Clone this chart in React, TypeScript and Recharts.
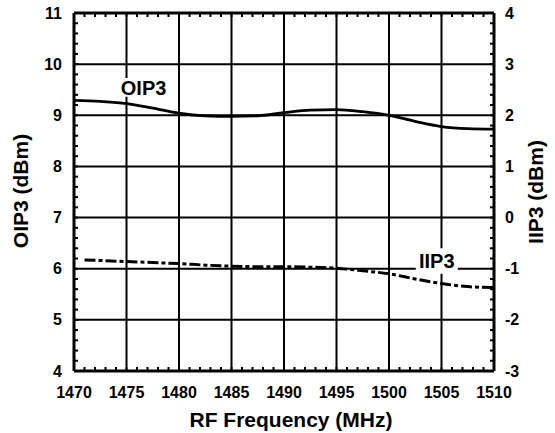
import React from 'react';
import { LineChart, Line, XAxis, YAxis, CartesianGrid, ReferenceArea, Label } from 'recharts';

// OIP3 curve (left axis, dBm) vs RF frequency (MHz)
const freqOip3 = [1470, 1472.5, 1475, 1477.5, 1480, 1482.5, 1485, 1487.5, 1490, 1492.5, 1495, 1497.5, 1500, 1502.5, 1505, 1507.5, 1510];
const oip3 = [9.29, 9.27, 9.23, 9.14, 9.04, 8.99, 8.98, 8.99, 9.05, 9.1, 9.11, 9.07, 9.0, 8.88, 8.78, 8.74, 8.73];

// IIP3 curve (right axis, dBm)
const freqIip3 = [1471, 1472.5, 1475, 1477.5, 1480, 1482.5, 1485, 1487.5, 1490, 1492.5, 1495, 1497.5, 1500, 1502.5, 1505, 1507.5, 1510];
const iip3 = [-0.83, -0.84, -0.86, -0.88, -0.9, -0.93, -0.95, -0.96, -0.96, -0.97, -0.99, -1.04, -1.1, -1.2, -1.29, -1.35, -1.37];

const freqTicks = [1470, 1475, 1480, 1485, 1490, 1495, 1500, 1505, 1510];
const oip3Ticks = [4, 5, 6, 7, 8, 9, 10, 11];
const iip3Ticks = [-3, -2, -1, 0, 1, 2, 3, 4];

const FONT = '"Liberation Sans", Arial, Helvetica, sans-serif';

// minor tick positions (1 MHz, 0.2 dB)
const minorFreq: number[] = [];
for (let f = freqTicks[0]; f <= freqTicks[freqTicks.length - 1]; f++) minorFreq.push(f);
const minorLeft: number[] = [];
for (let i = 0; i <= 35; i++) minorLeft.push(Math.round((oip3Ticks[0] + i * 0.2) * 10) / 10);
const minorRight: number[] = [];
for (let i = 0; i <= 35; i++) minorRight.push(Math.round((iip3Ticks[0] + i * 0.2) * 10) / 10);

const oip3Data = freqOip3.map((f, i) => ({ f, v: oip3[i] }));
const iip3Data = freqIip3.map((f, i) => ({ f, v: iip3[i] }));

const isMajor = (v: number) => Math.abs(v - Math.round(v)) < 1e-6;

const tickText = { fontFamily: FONT, fontSize: 16, fontWeight: 'bold' as const, fill: '#000' };

const LeftTick = (props: any) => {
    const { x, y, payload } = props;
    const v = payload.value;
    return (
        <g>
            <line x1={x} x2={x + 4} y1={y} y2={y} stroke="#000" strokeWidth={2} />
            {isMajor(v) && (
                <text x={x - 12} y={y + 5.5} textAnchor="end" {...tickText}>
                    {Math.round(v)}
                </text>
            )}
        </g>
    );
};

const RightTick = (props: any) => {
    const { x, y, payload } = props;
    const v = payload.value;
    return (
        <g>
            <line x1={x - 4} x2={x} y1={y} y2={y} stroke="#000" strokeWidth={2} />
            {isMajor(v) && (
                <text x={x + 11} y={y + 5.5} textAnchor="start" {...tickText}>
                    {Math.round(v)}
                </text>
            )}
        </g>
    );
};

const BottomTick = (props: any) => {
    const { x, y, payload } = props;
    const v = payload.value;
    return (
        <g>
            <line x1={x} x2={x} y1={y} y2={y - 4} stroke="#000" strokeWidth={2} />
            {v % 5 === 0 && (
                <text x={x} y={y + 27} textAnchor="middle" {...tickText}>
                    {v}
                </text>
            )}
        </g>
    );
};

const TopTick = (props: any) => {
    const { x, y } = props;
    return <line x1={x} x2={x} y1={y} y2={y + 4} stroke="#000" strokeWidth={2} />;
};

const titleStyle = { fontFamily: FONT, fontSize: 21, fontWeight: 'bold' as const, fill: '#000' };
const curveLabel = { position: 'center' as const, fill: '#000', fontSize: 20, fontWeight: 'bold', fontFamily: FONT };

const App: React.FC = () => {
    return (
        <div style={{ position: 'absolute', left: 0, top: 0, width: 555, height: 433, background: '#fff' }}>
            <LineChart width={555} height={433} margin={{ top: 0, right: 0, bottom: 0, left: 0 }}>
                <CartesianGrid
                    xAxisId="bottom"
                    yAxisId="left"
                    horizontalValues={oip3Ticks}
                    verticalValues={freqTicks}
                    stroke="#000"
                    strokeWidth={2}
                />
                <XAxis
                    xAxisId="bottom"
                    dataKey="f"
                    type="number"
                    domain={[1470, 1510]}
                    ticks={minorFreq}
                    interval={0}
                    allowDataOverflow
                    height={62}
                    tickSize={0}
                    tickMargin={0}
                    tickLine={false}
                    tick={<BottomTick />}
                    axisLine={{ stroke: '#000', strokeWidth: 3 }}
                >
                    <Label
                        content={() => (
                            <text x={291} y={427} textAnchor="middle" {...titleStyle}>
                                RF Frequency (MHz)
                            </text>
                        )}
                    />
                </XAxis>
                <XAxis
                    xAxisId="top"
                    orientation="top"
                    type="number"
                    dataKey="f"
                    domain={[1470, 1510]}
                    ticks={minorFreq}
                    interval={0}
                    allowDataOverflow
                    height={13}
                    tickSize={0}
                    tickMargin={0}
                    tickLine={false}
                    tick={<TopTick />}
                    axisLine={{ stroke: '#000', strokeWidth: 3 }}
                />
                <YAxis
                    yAxisId="left"
                    type="number"
                    domain={[4, 11]}
                    ticks={minorLeft}
                    interval={0}
                    allowDataOverflow
                    width={74}
                    tickSize={0}
                    tickMargin={0}
                    tickLine={false}
                    tick={<LeftTick />}
                    axisLine={{ stroke: '#000', strokeWidth: 3 }}
                >
                    <Label
                        content={() => (
                            <text x={28} y={191} textAnchor="middle" transform="rotate(-90 28 191)" {...titleStyle}>
                                OIP3 (dBm)
                            </text>
                        )}
                    />
                </YAxis>
                <YAxis
                    yAxisId="right"
                    orientation="right"
                    type="number"
                    domain={[-3, 4]}
                    ticks={minorRight}
                    interval={0}
                    allowDataOverflow
                    width={61}
                    tickSize={0}
                    tickMargin={0}
                    tickLine={false}
                    tick={<RightTick />}
                    axisLine={{ stroke: '#000', strokeWidth: 3 }}
                >
                    <Label
                        content={() => (
                            <text x={543} y={192} textAnchor="middle" transform="rotate(-90 543 192)" {...titleStyle}>
                                IIP3 (dBm)
                            </text>
                        )}
                    />
                </YAxis>

                <ReferenceArea
                    xAxisId="bottom"
                    yAxisId="left"
                    x1={1474.1}
                    x2={1479.15}
                    y1={9.36}
                    y2={9.73}
                    fill="#fff"
                    fillOpacity={1}
                    stroke="none"
                    label={{ value: 'OIP3', ...curveLabel }}
                />
                <ReferenceArea
                    xAxisId="bottom"
                    yAxisId="left"
                    x1={1502.55}
                    x2={1506.55}
                    y1={5.9}
                    y2={6.4}
                    fill="#fff"
                    fillOpacity={1}
                    stroke="none"
                    label={{ value: 'IIP3', ...curveLabel }}
                />

                <Line
                    xAxisId="bottom"
                    yAxisId="left"
                    data={oip3Data}
                    dataKey="v"
                    type="monotone"
                    stroke="#000"
                    strokeWidth={2.8}
                    dot={false}
                    activeDot={false}
                    isAnimationActive={false}
                />
                <Line
                    xAxisId="bottom"
                    yAxisId="right"
                    data={iip3Data}
                    dataKey="v"
                    type="monotone"
                    stroke="#000"
                    strokeWidth={3}
                    strokeDasharray="11 3 4 3"
                    dot={false}
                    activeDot={false}
                    isAnimationActive={false}
                />
            </LineChart>
        </div>
    );
};

export default App;
